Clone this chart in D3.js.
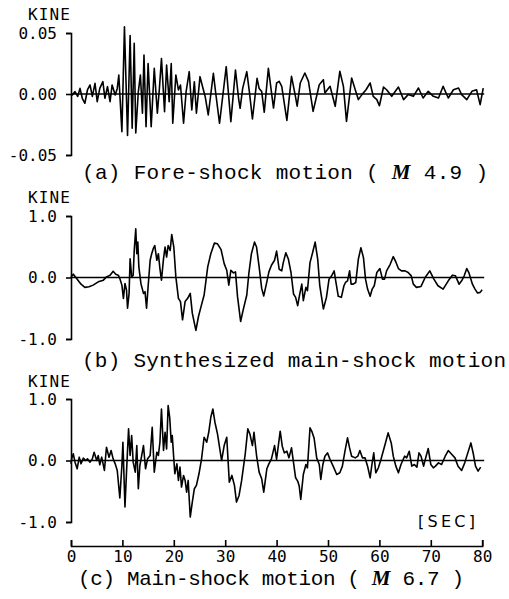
<!DOCTYPE html>
<html>
<head>
<meta charset="utf-8">
<script src="https://cdn.jsdelivr.net/npm/d3@7/dist/d3.min.js"></script>
<style>
  html, body { margin: 0; padding: 0; background: #fff; }
  svg { display: block; }
</style>
</head>
<body>
<svg id="chart" width="509" height="599"></svg>
<script>
// ---------- DATA (time in seconds, velocity in kine) ----------
const timeTicks = [0, 10, 20, 30, 40, 50, 60, 70, 80];

const foreShockTicks = [0.05, 0.00, -0.05];
const foreShockTickLabels = ["0.05", "0.00", "-0.05"];
const mainTicks = [1.0, 0.0, -1.0];
const mainTickLabels = ["1.0", "0.0", "-1.0"];

const titles = [
  ["(a) Fore-shock motion ( ", "M", " 4.9 )"],
  ["(b) Synthesized main-shock motion", "", ""],
  ["(c) Main-shock motion ( ", "M", " 6.7 )"]
];

// (a) fore-shock velocity
const foreShock = [
  [0.0,-0.001],[0.26,-0.0008],[0.78,0.002],[1.3,-0.002],[1.75,0.0046],[2.2,-0.0035],
  [2.7,-0.0076],[3.2,0.0033],[3.7,0.0074],[4.15,-0.002],[4.67,0.0087],[5.1,-0.0063],
  [5.6,0.0046],[6.2,0.0101],[6.6,-0.0035],[7.1,0.006],[7.6,-0.0063],[8.0,0.0074],
  [8.6,-0.0008],[9.0,0.0046],[9.3,0.0156],[9.9,-0.031],[10.4,0.055],[11.0,-0.034],
  [11.5,0.048],[11.9,-0.028],[12.3,0.0415],[12.6,-0.032],[13.1,0.002],[13.5,0.0156],
  [13.9,-0.0158],[14.2,0.032],[14.6,-0.0268],[15.0,0.025],[15.6,-0.0268],[16.2,0.021],
  [16.8,-0.0158],[17.2,0.0046],[17.6,0.029],[18.2,-0.0145],[18.6,0.0238],[19.1,-0.0063],
  [19.5,0.025],[19.8,-0.024],[20.4,0.0156],[20.9,0.0033],[21.3,0.0074],[21.9,-0.024],
  [22.4,0.002],[23.0,0.0183],[23.5,-0.0131],[24.0,0.0101],[24.4,-0.0158],[25.1,0.0142],
  [25.6,0.006],[26.1,-0.002],[26.7,-0.0172],[27.7,0.0169],[28.2,-0.0008],[28.9,-0.024],
  [30.2,0.0224],[30.6,0.002],[31.1,-0.0227],[32.0,0.0197],[32.6,-0.0035],[32.9,-0.0117],
  [33.4,0.0046],[34.2,0.0183],[34.7,0.002],[35.3,-0.0205],[36.2,0.0128],[36.6,0.0046],
  [37.1,0.002],[37.6,-0.015],[38.4,0.021],[39.4,-0.0115],[40.0,0.009],[40.5,0.0104],
  [41.0,0.0063],[42.0,-0.0216],[42.9,0.0145],[43.6,-0.0005],[44.0,-0.010],[44.6,0.009],
  [45.5,0.0172],[46.2,0.0104],[47.1,-0.0142],[48.3,0.0076],[49.1,0.0117],[49.4,0.0008],
  [50.4,0.0063],[51.4,-0.0101],[52.3,0.0186],[53.0,0.0063],[53.6,-0.0224],[54.6,0.0131],
  [55.3,0.0035],[55.9,-0.0046],[56.6,-0.0005],[57.4,0.0035],[58.2,0.009],[58.8,-0.0019],
  [59.5,-0.0046],[60.0,-0.0096],[60.8,0.0057],[61.4,0.0035],[62.4,-0.0019],[63.7,0.0057],
  [64.7,-0.0046],[65.6,-0.0005],[66.6,-0.0019],[67.6,0.0049],[68.5,-0.0033],[69.5,0.0022],
  [70.5,-0.0019],[71.5,-0.0033],[72.4,0.0063],[73.4,-0.0033],[74.4,0.0035],[75.4,0.0049],
  [76.0,-0.0005],[77.0,-0.0046],[78.0,0.0022],[78.9,0.0035],[79.6,-0.0087],[80.2,0.0049]
];

// (b) synthesized main-shock velocity
const synthesized = [
  [0.0,0.01],[0.45,0.054],[1.1,-0.016],[1.95,-0.108],[2.7,-0.161],[3.5,-0.15],
  [4.3,-0.124],[5.3,-0.07],[6.3,-0.043],[6.9,0.01],[7.6,0.038],[8.2,0.102],
  [8.7,0.054],[9.2,0.038],[9.5,-0.016],[9.9,-0.124],[10.2,-0.339],[10.5,-0.097],
  [10.8,-0.204],[11.0,-0.5],[11.3,-0.258],[11.5,0.306],[11.8,0.01],[12.1,0.038],
  [12.3,0.44],[12.6,0.79],[12.8,0.387],[13.0,0.575],[13.2,0.172],[13.6,-0.097],
  [14.1,-0.258],[14.4,-0.231],[14.7,-0.5],[15.0,-0.15],[15.4,0.28],[15.7,0.387],
  [16.0,0.468],[16.3,0.52],[16.7,0.28],[17.0,0.387],[17.3,0.145],[17.6,-0.043],
  [18.0,0.306],[18.3,0.495],[18.6,0.333],[18.9,0.52],[19.3,0.44],[19.6,0.70],
  [20.0,0.495],[20.4,0.01],[20.9,-0.339],[21.3,-0.392],[21.7,-0.688],[22.2,-0.392],
  [22.7,-0.339],[23.2,-0.258],[23.6,-0.58],[24.3,-0.86],[24.8,-0.634],[25.3,-0.473],
  [25.9,-0.285],[26.6,0.172],[27.2,0.387],[27.9,0.559],[28.5,0.548],[29.2,0.452],
  [29.8,0.226],[30.3,0.118],[30.7,-0.124],[31.1,0.118],[31.6,0.075],[32.0,0.091],
  [32.4,-0.312],[33.0,-0.715],[33.5,-0.527],[34.2,-0.285],[34.6,0.065],[35.1,0.387],
  [35.7,0.575],[36.1,0.495],[36.6,0.172],[37.1,-0.177],[37.5,-0.30],[38.1,-0.07],
  [38.5,0.091],[39.0,0.199],[39.6,0.28],[40.0,0.43],[40.5,0.134],[41.0,0.108],
  [41.3,0.242],[41.8,0.403],[42.3,0.296],[42.8,0.081],[43.3,-0.269],[43.7,-0.323],
  [44.1,-0.457],[44.5,-0.269],[44.9,-0.108],[45.2,-0.376],[45.7,-0.161],[46.0,-0.215],
  [46.5,0.242],[47.0,0.403],[47.5,0.575],[48.0,0.296],[48.4,-0.134],[49.1,-0.511],
  [49.7,-0.323],[50.2,-0.027],[50.7,0.027],[51.2,0.108],[51.5,-0.054],[52.0,-0.306],
  [52.6,-0.323],[53.1,-0.134],[53.4,-0.081],[53.8,-0.054],[54.2,0.108],[54.5,-0.108],
  [54.9,-0.108],[55.4,-0.081],[55.9,0.296],[56.4,0.484],[56.9,0.323],[57.3,-0.027],
  [57.7,-0.188],[58.2,-0.306],[58.6,-0.188],[59.0,-0.134],[59.5,0.081],[60.1,0.145],
  [60.6,-0.027],[61.0,-0.027],[61.4,0.108],[62.1,0.215],[62.7,0.339],[63.2,0.253],
  [63.7,0.145],[64.3,0.108],[65.0,0.108],[65.6,0.081],[66.2,0.027],[66.6,-0.108],
  [67.2,-0.161],[68.1,-0.145],[68.9,0.0],[69.8,0.108],[70.6,-0.027],[71.4,-0.134],
  [72.4,-0.188],[73.4,-0.054],[74.2,0.038],[74.8,0.027],[75.5,-0.108],[76.0,-0.054],
  [76.5,0.027],[77.0,0.145],[77.4,0.081],[78.1,-0.108],[78.6,-0.188],[79.1,-0.253],
  [79.6,-0.242],[80.0,-0.199]
];

// (c) observed main-shock velocity
const mainShock = [
  [0.0,-0.054],[0.13,0.027],[0.45,0.108],[0.78,-0.027],[1.2,-0.135],[1.6,0.054],
  [1.95,-0.054],[2.4,0.038],[2.85,0.0],[3.2,0.027],[3.7,-0.027],[4.15,0.027],
  [4.5,0.135],[5.0,0.0],[5.3,0.081],[5.6,-0.07],[5.97,0.054],[6.5,-0.162],
  [6.9,0.216],[7.4,0.054],[7.8,0.162],[8.2,0.027],[8.6,-0.054],[9.0,-0.162],
  [9.5,-0.61],[9.9,-0.081],[10.1,0.297],[10.5,-0.757],[10.8,-0.189],[11.2,0.514],
  [11.5,0.081],[11.8,0.405],[12.1,-0.027],[12.5,-0.189],[12.8,0.243],[13.1,-0.459],
  [13.4,-0.081],[13.7,0.054],[14.1,0.243],[14.5,-0.135],[14.9,0.027],[15.4,0.081],
  [15.8,0.541],[16.2,-0.189],[16.7,0.135],[17.0,0.081],[17.3,0.297],[17.6,0.838],
  [18.0,0.162],[18.3,0.459],[18.6,0.189],[18.9,0.892],[19.2,0.703],[19.5,0.297],
  [19.7,0.405],[20.0,0.027],[20.2,-0.216],[20.6,-0.054],[20.9,-0.324],[21.2,-0.108],
  [21.5,-0.432],[21.9,-0.243],[22.2,-0.324],[22.5,-0.514],[22.8,-0.324],[23.2,-0.919],
  [23.6,-0.676],[24.0,-0.459],[24.4,-0.405],[24.9,-0.216],[25.4,0.027],[25.9,0.378],
  [26.4,0.297],[26.8,0.459],[27.2,0.703],[27.6,0.838],[28.0,0.622],[28.5,0.432],
  [29.0,0.162],[29.3,0.0],[29.8,0.243],[30.3,0.378],[30.8,-0.351],[31.3,-0.243],
  [31.8,-0.405],[32.2,-0.676],[32.7,-0.568],[33.2,-0.324],[33.9,0.108],[34.4,0.514],
  [34.8,0.432],[35.3,0.243],[35.6,0.459],[36.1,0.081],[36.6,-0.189],[37.1,-0.297],
  [37.5,-0.514],[38.1,-0.135],[38.5,-0.054],[39.0,0.027],[39.6,0.243],[40.0,0.02],
  [40.7,0.476],[41.1,0.232],[41.5,0.124],[42.0,0.151],[42.4,0.043],[42.9,0.205],
  [43.3,-0.038],[43.7,-0.281],[44.1,-0.335],[44.4,-0.416],[44.7,-0.632],[45.2,-0.227],
  [45.7,-0.065],[46.0,-0.119],[46.5,0.53],[46.9,0.465],[47.3,0.362],[47.8,0.043],
  [48.3,-0.065],[48.6,-0.308],[49.0,-0.065],[49.4,0.07],[49.9,0.124],[50.4,0.016],
  [51.0,-0.092],[51.7,-0.227],[52.3,-0.2],[52.8,-0.092],[53.3,0.151],[53.8,0.368],
  [54.2,0.205],[54.6,0.07],[55.3,0.043],[55.8,0.07],[56.2,0.162],[56.7,0.043],
  [57.2,0.043],[57.7,-0.092],[58.2,-0.281],[58.5,-0.092],[58.9,0.124],[59.3,-0.2],
  [59.8,-0.119],[60.3,0.016],[61.1,0.259],[61.7,0.449],[62.3,0.286],[62.7,0.07],
  [63.2,-0.092],[63.7,-0.2],[64.2,-0.065],[64.9,0.07],[65.3,0.043],[65.8,0.151],
  [66.3,-0.092],[66.8,-0.065],[67.3,-0.108],[67.7,0.124],[68.1,0.07],[68.6,-0.092],
  [69.0,0.043],[69.5,0.195],[70.0,-0.065],[70.5,-0.119],[70.9,-0.092],[71.5,-0.038],
  [72.1,-0.065],[72.8,0.07],[73.4,0.162],[74.1,0.097],[74.7,0.043],[75.3,-0.092],
  [76.0,-0.162],[76.6,-0.038],[77.2,0.124],[77.8,0.286],[78.3,0.097],[78.7,-0.092],
  [79.2,-0.173],[79.7,-0.108]
];

// ---------- LAYOUT ----------
const svg = d3.select("#chart");
const x = d3.scaleLinear().domain([0, 80]).range([71, 482.2]);

const panels = [
  { data: foreShock, domain: [-0.05, 0.05], range: [155, 33], ticks: foreShockTicks,
    labels: foreShockTickLabels, kineY: 20, title: titles[0], titleX: 82, titleY: 179, titleLen: 406 },
  { data: synthesized, domain: [-1, 1], range: [339, 216], ticks: mainTicks,
    labels: mainTickLabels, kineY: 203, title: titles[1], titleX: 82, titleY: 367, titleLen: 424 },
  { data: mainShock, domain: [-1, 1], range: [522, 399], ticks: mainTicks,
    labels: mainTickLabels, kineY: 387, title: titles[2], titleX: 78, titleY: 585, titleLen: 386 }
];

const monoFont = "'DejaVu Sans Mono', monospace";

panels.forEach(p => {
  const y = d3.scaleLinear().domain(p.domain).range(p.range);
  const g = svg.append("g");

  // y axis (bracket shape via outer ticks)
  const ax = g.append("g")
    .attr("transform", `translate(${x(0)},0)`)
    .call(d3.axisLeft(y).tickValues(p.ticks).tickSize(5).tickSizeOuter(5)
      .tickPadding(9).tickFormat((d, i) => p.labels[i]));
  ax.select(".domain").attr("stroke", "#000").attr("stroke-width", 1.6);
  ax.selectAll(".tick line").attr("stroke", "#000").attr("stroke-width", 1.6);
  ax.selectAll(".tick text").attr("font-family", monoFont).attr("font-size", 16)
    .attr("fill", "#000");

  // KINE unit label
  g.append("text").attr("x", 28).attr("y", p.kineY).text("KINE")
    .attr("font-family", monoFont).attr("font-size", 16).attr("fill", "#000")
    .attr("textLength", 42).attr("lengthAdjust", "spacing");

  // zero line
  g.append("line")
    .attr("x1", x(0)).attr("x2", x(80) + 2)
    .attr("y1", y(0)).attr("y2", y(0))
    .attr("stroke", "#000").attr("stroke-width", 1.3);

  // waveform
  const line = d3.line().x(d => x(d[0])).y(d => y(d[1]));
  g.append("path").datum(p.data).attr("d", line)
    .attr("fill", "none").attr("stroke", "#000").attr("stroke-width", 1.6)
    .attr("stroke-linejoin", "round");

  // caption
  const t = g.append("text").attr("x", p.titleX).attr("y", p.titleY)
    .attr("font-family", "'Liberation Mono', 'Courier New', monospace")
    .attr("font-size", 21).attr("fill", "#000")
    .attr("textLength", p.titleLen).attr("lengthAdjust", "spacing");
  t.append("tspan").text(p.title[0]);
  if (p.title[1]) {
    t.append("tspan").text(p.title[1]).attr("font-style", "italic")
      .attr("font-family", "'Liberation Serif', serif").attr("font-weight", "bold");
    t.append("tspan").text(p.title[2]);
  }
});

// [SEC] label
svg.append("text").attr("x", 418).attr("y", 527).text("[SEC]")
  .attr("font-family", "'DejaVu Sans', sans-serif").attr("font-size", 16)
  .attr("textLength", 57).attr("lengthAdjust", "spacing").attr("fill", "#000");

// time axis
const xa = svg.append("g").attr("transform", "translate(0,546)")
  .call(d3.axisBottom(x).tickValues(timeTicks).tickSize(-6).tickSizeOuter(-6)
    .tickPadding(5).tickFormat(d3.format("d")));
xa.select(".domain").attr("stroke", "#000").attr("stroke-width", 1.6);
xa.selectAll(".tick line").attr("stroke", "#000").attr("stroke-width", 1.6);
xa.selectAll(".tick text").attr("font-family", monoFont).attr("font-size", 16)
  .attr("fill", "#000");
</script>
</body>
</html>
